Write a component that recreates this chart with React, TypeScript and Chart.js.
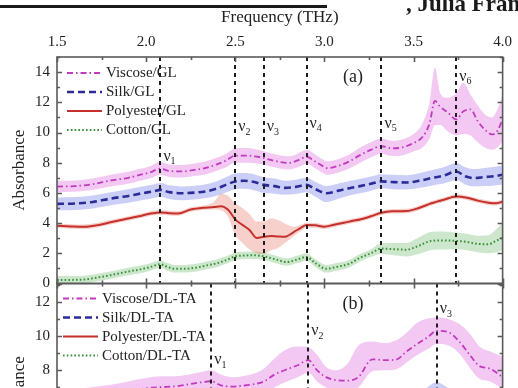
import React, { useEffect, useRef } from 'react';
import { Chart, registerables } from 'chart.js';

Chart.register(...registerables);

const SERIF = '"Liberation Serif", "Times New Roman", serif';
const INK = '#222';

// ---- axes ----
const freqTicks = [1.5, 2.0, 2.5, 3.0, 3.5, 4.0];
const freqTickLabels = ['1.5', '2.0', '2.5', '3.0', '3.5', '4.0'];
const freqMinorTicks = [1.75, 2.25, 2.75, 3.25, 3.75];
const absTicksA = [0, 2, 4, 6, 8, 10, 12, 14];
const absTicksB = [0, 2, 4, 6, 8, 10, 12];

// ---- vibrational modes (THz) ----
const modesA = [2.08, 2.5, 2.66, 2.9, 3.32, 3.74];
const modeNamesA = ['1', '2', '3', '4', '5', '6'];
const modesB = [2.365, 2.91, 3.63];
const modeNamesB = ['1', '2', '3'];

// ---- (a) GL ----
const viscoseGLFreq = [1.5, 1.6, 1.7, 1.8, 1.9, 1.96, 2.02, 2.08, 2.13, 2.2, 2.27, 2.33, 2.4, 2.45, 2.5, 2.57, 2.62, 2.66, 2.7, 2.75, 2.8, 2.85, 2.9, 2.96, 3.02, 3.08, 3.14, 3.2, 3.26, 3.32, 3.38, 3.44, 3.5, 3.55, 3.59, 3.62, 3.65, 3.69, 3.74, 3.78, 3.82, 3.86, 3.9, 3.94, 3.97, 4.0];
const viscoseGL = [6.42, 6.45, 6.58, 6.82, 7.0, 7.18, 7.35, 7.6, 7.45, 7.42, 7.52, 7.64, 7.9, 8.15, 8.47, 8.47, 8.4, 8.31, 8.18, 8.05, 7.98, 8.15, 8.38, 8.0, 7.64, 7.8, 8.09, 8.5, 8.85, 9.09, 8.95, 9.02, 9.3, 9.7, 10.6, 12.09, 11.7, 11.35, 10.87, 11.4, 11.53, 10.75, 10.2, 9.87, 10.09, 10.87];
const viscoseGLLow = [6.05, 6.08, 6.2, 6.42, 6.6, 6.78, 6.95, 7.2, 7.05, 7.02, 7.12, 7.22, 7.48, 7.72, 8.0, 8.0, 7.95, 7.88, 7.75, 7.62, 7.55, 7.7, 7.92, 7.55, 7.2, 7.35, 7.62, 8.0, 8.35, 8.6, 8.45, 8.5, 8.75, 9.0, 9.6, 10.5, 10.5, 10.1, 9.8, 9.9, 9.8, 9.35, 9.0, 8.85, 9.0, 9.4];
const viscoseGLHigh = [6.8, 6.82, 6.95, 7.2, 7.4, 7.58, 7.75, 8.05, 7.88, 7.85, 7.95, 8.08, 8.35, 8.6, 8.95, 8.98, 8.88, 8.76, 8.62, 8.5, 8.42, 8.6, 8.85, 8.45, 8.1, 8.25, 8.55, 9.0, 9.35, 9.6, 9.45, 9.55, 9.9, 10.6, 12.0, 14.3, 12.6, 12.3, 12.6, 13.3, 12.5, 11.8, 11.2, 11.0, 11.5, 12.5];

const silkGLFreq = [1.5, 1.6, 1.7, 1.8, 1.9, 1.98, 2.04, 2.08, 2.13, 2.2, 2.27, 2.33, 2.4, 2.45, 2.5, 2.55, 2.6, 2.66, 2.72, 2.78, 2.84, 2.9, 2.95, 3.01, 3.08, 3.14, 3.2, 3.26, 3.32, 3.38, 3.46, 3.53, 3.6, 3.67, 3.74, 3.79, 3.84, 3.9, 3.95, 4.0];
const silkGL = [5.27, 5.3, 5.4, 5.62, 5.8, 5.98, 6.1, 6.2, 6.05, 5.98, 6.02, 6.09, 6.3, 6.55, 6.76, 6.8, 6.74, 6.53, 6.45, 6.33, 6.4, 6.53, 6.25, 5.98, 6.15, 6.31, 6.45, 6.6, 6.76, 6.72, 6.69, 6.8, 6.98, 7.15, 7.42, 7.1, 6.98, 7.05, 7.1, 7.2];
const silkGLLow = [4.85, 4.87, 4.97, 5.18, 5.35, 5.53, 5.65, 5.75, 5.6, 5.52, 5.57, 5.64, 5.83, 6.05, 6.25, 6.27, 6.2, 6.0, 5.95, 5.87, 5.93, 6.05, 5.75, 5.4, 5.62, 5.83, 5.98, 6.13, 6.3, 6.25, 6.22, 6.32, 6.48, 6.62, 6.85, 6.55, 6.42, 6.45, 6.48, 6.55];
const silkGLHigh = [5.7, 5.73, 5.83, 6.05, 6.25, 6.43, 6.55, 6.65, 6.5, 6.43, 6.47, 6.55, 6.78, 7.05, 7.28, 7.32, 7.25, 7.03, 6.95, 6.8, 6.87, 7.0, 6.72, 6.45, 6.62, 6.78, 6.92, 7.08, 7.24, 7.2, 7.17, 7.3, 7.5, 7.7, 7.98, 7.7, 7.58, 7.65, 7.72, 7.82];

const polyesterGLFreq = [1.5, 1.58, 1.65, 1.72, 1.8, 1.88, 1.96, 2.02, 2.08, 2.13, 2.18, 2.25, 2.32, 2.38, 2.42, 2.46, 2.5, 2.54, 2.58, 2.62, 2.66, 2.7, 2.74, 2.78, 2.83, 2.87, 2.9, 2.95, 3.0, 3.05, 3.11, 3.16, 3.2, 3.26, 3.32, 3.38, 3.46, 3.53, 3.6, 3.67, 3.74, 3.8, 3.86, 3.92, 3.96, 4.0];
const polyesterGL = [3.82, 3.78, 3.76, 3.85, 4.05, 4.25, 4.45, 4.62, 4.71, 4.66, 4.64, 4.9, 5.02, 5.06, 5.12, 4.88, 4.25, 3.88, 3.55, 3.02, 3.09, 3.15, 3.12, 3.1, 3.42, 3.7, 3.87, 3.85, 3.76, 3.88, 4.02, 4.15, 4.24, 4.45, 4.69, 4.78, 4.8, 5.0, 5.31, 5.55, 5.76, 5.68, 5.49, 5.35, 5.31, 5.42];
const polyesterGLLow = [3.67, 3.63, 3.61, 3.7, 3.9, 4.1, 4.3, 4.47, 4.56, 4.51, 4.49, 4.75, 4.87, 4.9, 4.85, 4.4, 3.2, 2.7, 2.25, 2.0, 1.95, 2.2, 2.35, 2.7, 3.15, 3.5, 3.7, 3.7, 3.61, 3.73, 3.87, 4.0, 4.09, 4.3, 4.54, 4.63, 4.65, 4.85, 5.16, 5.4, 5.61, 5.53, 5.34, 5.2, 5.16, 5.27];
const polyesterGLHigh = [3.97, 3.93, 3.91, 4.0, 4.2, 4.4, 4.6, 4.77, 4.86, 4.81, 4.79, 5.05, 5.17, 5.4, 5.95, 5.8, 5.3, 5.0, 4.6, 4.1, 4.1, 4.3, 4.2, 3.95, 3.75, 3.9, 4.02, 4.0, 3.91, 4.03, 4.17, 4.3, 4.39, 4.6, 4.84, 4.93, 4.95, 5.15, 5.46, 5.7, 5.91, 5.83, 5.64, 5.5, 5.46, 5.57];

const cottonGLFreq = [1.5, 1.58, 1.65, 1.72, 1.8, 1.88, 1.96, 2.02, 2.08, 2.12, 2.16, 2.22, 2.28, 2.34, 2.4, 2.46, 2.5, 2.55, 2.6, 2.66, 2.72, 2.79, 2.85, 2.9, 2.95, 3.01, 3.07, 3.14, 3.2, 3.26, 3.32, 3.38, 3.46, 3.53, 3.6, 3.67, 3.74, 3.8, 3.86, 3.92, 3.96, 4.0];
const cottonGL = [0.24, 0.24, 0.26, 0.38, 0.55, 0.75, 0.92, 1.08, 1.27, 1.1, 0.98, 0.98, 1.05, 1.2, 1.35, 1.6, 1.8, 1.85, 1.87, 1.8, 1.62, 1.42, 1.6, 1.76, 1.35, 0.98, 1.1, 1.31, 1.7, 2.0, 2.31, 2.28, 2.24, 2.5, 2.82, 2.85, 2.82, 2.75, 2.62, 2.6, 2.8, 3.04];
const cottonGLLow = [0.0, 0.0, 0.02, 0.13, 0.3, 0.5, 0.67, 0.83, 1.02, 0.85, 0.73, 0.73, 0.8, 0.95, 1.1, 1.35, 1.55, 1.6, 1.62, 1.55, 1.37, 1.17, 1.35, 1.51, 1.1, 0.73, 0.85, 1.06, 1.45, 1.75, 1.96, 1.88, 1.79, 1.95, 2.22, 2.25, 2.27, 2.2, 2.07, 2.0, 2.05, 2.2];
const cottonGLHigh = [0.49, 0.49, 0.51, 0.63, 0.8, 1.0, 1.17, 1.33, 1.52, 1.35, 1.23, 1.23, 1.3, 1.45, 1.6, 1.85, 2.05, 2.1, 2.12, 2.05, 1.87, 1.67, 1.85, 2.01, 1.6, 1.23, 1.35, 1.56, 1.95, 2.25, 2.66, 2.68, 2.69, 3.05, 3.42, 3.45, 3.37, 3.3, 3.17, 3.2, 3.55, 4.0];

// ---- (b) DL-TA ----
const viscoseDLFreq = [1.5, 1.65, 1.8, 1.9, 2.0, 2.08, 2.16, 2.24, 2.31, 2.365, 2.42, 2.48, 2.54, 2.6, 2.66, 2.72, 2.78, 2.85, 2.91, 2.96, 3.01, 3.07, 3.13, 3.19, 3.27, 3.34, 3.4, 3.46, 3.52, 3.58, 3.63, 3.7, 3.76, 3.82, 3.87, 3.93, 4.0];
const viscoseDL = [6.3, 6.45, 6.62, 6.8, 6.95, 7.02, 7.06, 7.18, 7.3, 7.36, 7.12, 7.05, 7.1, 7.18, 7.35, 7.75, 8.02, 8.3, 8.6, 8.0, 7.6, 7.42, 7.4, 7.6, 8.65, 8.6, 8.62, 9.1, 9.55, 9.95, 10.32, 10.22, 9.65, 8.85, 8.25, 8.1, 7.6];
const viscoseDLLow = [5.8, 5.95, 6.1, 6.25, 6.4, 6.45, 6.5, 6.6, 6.7, 6.75, 6.55, 6.5, 6.55, 6.6, 6.7, 7.0, 7.3, 7.6, 7.85, 7.35, 7.0, 6.85, 6.85, 7.0, 7.95, 8.0, 8.05, 8.45, 8.9, 9.25, 9.55, 9.45, 8.95, 8.1, 7.5, 7.35, 6.9];
const viscoseDLHigh = [6.8, 6.95, 7.15, 7.35, 7.55, 7.65, 7.65, 7.75, 7.9, 8.0, 7.75, 7.6, 7.65, 7.8, 8.1, 8.7, 9.2, 9.4, 9.35, 8.9, 8.2, 8.0, 8.4, 9.45, 9.7, 9.6, 9.75, 10.2, 10.8, 11.05, 11.1, 11.0, 10.7, 10.1, 9.4, 9.1, 8.8];

const dlFreq = [1.5, 1.8, 2.1, 2.365, 2.6, 2.91, 3.2, 3.45, 3.55, 3.63, 3.7, 3.85, 4.0];
const silkDL = [4.4, 4.7, 5.0, 5.4, 5.3, 5.9, 5.8, 6.0, 6.3, 6.75, 6.4, 6.0, 5.9];
const silkDLLow = [3.9, 4.2, 4.5, 4.9, 4.8, 5.4, 5.3, 5.5, 5.8, 6.2, 5.9, 5.5, 5.4];
const silkDLHigh = [4.9, 5.2, 5.5, 5.9, 5.8, 6.4, 6.3, 6.5, 6.8, 7.3, 6.95, 6.5, 6.4];
const polyesterDL = [3.2, 3.4, 3.6, 3.9, 3.8, 4.3, 4.2, 4.5, 4.7, 5.0, 4.8, 4.6, 4.6];
const polyesterDLLow = [2.9, 3.1, 3.3, 3.6, 3.5, 4.0, 3.9, 4.2, 4.4, 4.7, 4.5, 4.3, 4.3];
const polyesterDLHigh = [3.5, 3.7, 3.9, 4.2, 4.1, 4.6, 4.5, 4.8, 5.0, 5.3, 5.1, 4.9, 4.9];
const cottonDL = [0.5, 0.8, 1.1, 1.5, 1.4, 2.0, 1.9, 2.3, 2.6, 2.9, 2.7, 2.6, 2.7];
const cottonDLLow = [0.2, 0.5, 0.8, 1.2, 1.1, 1.7, 1.6, 2.0, 2.3, 2.6, 2.4, 2.3, 2.4];
const cottonDLHigh = [0.8, 1.1, 1.4, 1.8, 1.7, 2.3, 2.2, 2.6, 2.9, 3.2, 3.0, 2.9, 3.0];

// ---- series styles ----
const STYLE = {
  viscose: { line: '#c03ac0', band: 'rgba(226,120,226,0.40)', dash: [6, 3, 1.5, 3], width: 1.8 },
  silk: { line: '#2c2c98', band: 'rgba(112,122,232,0.36)', dash: [7, 4], width: 2.6 },
  polyester: { line: '#c5302b', band: 'rgba(232,122,112,0.36)', dash: [] as number[], width: 2 },
  cotton: { line: '#3b8f3b', band: 'rgba(120,192,120,0.38)', dash: [1.6, 2.2], width: 2 },
};

type Style = typeof STYLE.viscose;

const pts = (xs: number[], ys: number[]) => xs.map((x, i) => ({ x, y: ys[i] }));

function series(label: string, axis: string, st: Style, f: number[], m: number[], lo: number[], hi: number[]) {
  const common = { yAxisID: axis, xAxisID: 'x', pointRadius: 0, cubicInterpolationMode: 'monotone' as const };
  return [
    { ...common, label: label + ' hi', data: pts(f, hi), borderWidth: 0, borderColor: 'transparent', backgroundColor: st.band, fill: '+1', isBand: true },
    { ...common, label: label + ' lo', data: pts(f, lo), borderWidth: 0, borderColor: 'transparent', fill: false, isBand: true },
    { ...common, label, data: pts(f, m), borderColor: st.line, borderWidth: st.width, borderDash: st.dash, fill: false, legendStyle: st, panel: axis },
  ];
}

const datasets = [
  ...series('Viscose/GL', 'yA', STYLE.viscose, viscoseGLFreq, viscoseGL, viscoseGLLow, viscoseGLHigh),
  ...series('Silk/GL', 'yA', STYLE.silk, silkGLFreq, silkGL, silkGLLow, silkGLHigh),
  ...series('Polyester/GL', 'yA', STYLE.polyester, polyesterGLFreq, polyesterGL, polyesterGLLow, polyesterGLHigh),
  ...series('Cotton/GL', 'yA', STYLE.cotton, cottonGLFreq, cottonGL, cottonGLLow, cottonGLHigh),
  ...series('Viscose/DL-TA', 'yB', STYLE.viscose, viscoseDLFreq, viscoseDL, viscoseDLLow, viscoseDLHigh),
  ...series('Silk/DL-TA', 'yB', STYLE.silk, dlFreq, silkDL, silkDLLow, silkDLHigh),
  ...series('Polyester/DL-TA', 'yB', STYLE.polyester, dlFreq, polyesterDL, polyesterDLLow, polyesterDLHigh),
  ...series('Cotton/DL-TA', 'yB', STYLE.cotton, dlFreq, cottonDL, cottonDLLow, cottonDLHigh),
];

// label heights (absorbance units) for the mode markers
const MODE_LABEL_Y_A = [8.4, 10.35, 10.35, 10.6, 10.6, 13.7];
const MODE_LABEL_Y_B = [8.6, 10.3, 11.6];

const panelDecor = {
  id: 'panelDecor',
  afterDatasetsDraw(chart: any) {
    const { ctx } = chart;
    const x = chart.scales.x;
    const panels = [
      { y: chart.scales.yA, modes: modesA, names: modeNamesA, ly: MODE_LABEL_Y_A },
      { y: chart.scales.yB, modes: modesB, names: modeNamesB, ly: MODE_LABEL_Y_B },
    ];
    ctx.save();
    for (const p of panels) {
      ctx.strokeStyle = '#1e1e1e';
      ctx.lineWidth = 2;
      ctx.setLineDash([4, 4]);
      p.modes.forEach((f) => {
        const px = Math.round(x.getPixelForValue(f));
        ctx.beginPath();
        ctx.moveTo(px, p.y.top);
        ctx.lineTo(px, p.y.bottom);
        ctx.stroke();
      });
      ctx.setLineDash([]);
      ctx.fillStyle = INK;
      ctx.textAlign = 'left';
      ctx.textBaseline = 'middle';
      p.modes.forEach((f, i) => {
        const px = x.getPixelForValue(f) + 3;
        const py = p.y.getPixelForValue(p.ly[i]);
        ctx.font = `16px ${SERIF}`;
        ctx.fillText('ν', px, py);
        const w = ctx.measureText('ν').width;
        ctx.font = `10px ${SERIF}`;
        ctx.fillText(p.names[i], px + w, py + 5);
      });
    }
    ctx.restore();
  },
  afterDraw(chart: any) {
    const { ctx } = chart;
    const x = chart.scales.x;
    const yA = chart.scales.yA;
    const yB = chart.scales.yB;
    const L = x.left;
    const R = x.right;
    ctx.save();
    ctx.strokeStyle = '#5a5a5a';
    ctx.lineWidth = 1.6;
    for (const y of [yA, yB]) {
      ctx.strokeRect(L, y.top, R - L, y.bottom - y.top);
      // y ticks: every unit, longer on even values
      const lo = Math.ceil(y.min);
      const hi = Math.floor(y.max);
      for (let v = lo; v <= hi; v++) {
        const py = Math.round(y.getPixelForValue(v)) + 0.5;
        const len = v % 2 === 0 ? 5 : 3;
        ctx.beginPath();
        ctx.moveTo(L, py); ctx.lineTo(L + len, py);
        ctx.moveTo(R, py); ctx.lineTo(R - len, py);
        ctx.stroke();
      }
      // x ticks on top and bottom edges
      const xt = [...freqTicks.map((v) => [v, 5]), ...freqMinorTicks.map((v) => [v, 3])];
      for (const [v, len] of xt) {
        const px = Math.round(x.getPixelForValue(v)) + 0.5;
        ctx.beginPath();
        ctx.moveTo(px, y.top); ctx.lineTo(px, y.top + len);
        ctx.moveTo(px, y.bottom); ctx.lineTo(px, y.bottom - len);
        ctx.stroke();
      }
    }

    // legends
    const legend = (axis: string, x0: number, y0: number) => {
      const items = chart.data.datasets.filter((d: any) => d.panel === axis);
      items.forEach((d: any, i: number) => {
        const st: Style = d.legendStyle;
        const yy = y0 + i * 19;
        ctx.strokeStyle = st.line;
        ctx.lineWidth = st.width;
        ctx.setLineDash(st.dash);
        ctx.beginPath();
        ctx.moveTo(x0, yy);
        ctx.lineTo(x0 + 35, yy);
        ctx.stroke();
        ctx.setLineDash([]);
        ctx.fillStyle = INK;
        ctx.font = `15px ${SERIF}`;
        ctx.textAlign = 'left';
        ctx.textBaseline = 'middle';
        ctx.fillText(d.label, x0 + 39, yy + 0.5);
      });
    };
    legend('yA', L + 10, yA.top + 16);
    legend('yB', L + 6, yB.top + 15);

    // panel tags
    ctx.fillStyle = INK;
    ctx.font = `18px ${SERIF}`;
    ctx.textAlign = 'center';
    ctx.textBaseline = 'middle';
    ctx.fillText('(a)', L + 296, yA.top + 20);
    ctx.fillText('(b)', L + 296, yB.top + 21);
    ctx.restore();
  },
};

const tickFont = { family: SERIF, size: 15 };
const titleFont = { family: SERIF, size: 17 };

function yScale(min: number, max: number, ticks: number[]) {
  return {
    type: 'linear' as const,
    position: 'left' as const,
    stack: 'panels',
    stackWeight: 1,
    min,
    max,
    afterBuildTicks: (s: any) => { s.ticks = ticks.map((value) => ({ value })); },
    afterFit: (s: any) => { s.width = 57; },
    ticks: { font: tickFont, color: INK, padding: 7, autoSkip: false, callback: (v: any) => String(v) },
    grid: { display: false, drawTicks: false },
    border: { display: false },
    title: { display: true, text: 'Absorbance', font: titleFont, color: INK, padding: { top: 9, bottom: 0 } },
  };
}

export default function App() {
  const ref = useRef<HTMLCanvasElement>(null);

  useEffect(() => {
    if (!ref.current) return;
    const chart = new Chart(ref.current, {
      type: 'line',
      data: { datasets: datasets as any },
      options: {
        animation: false,
        responsive: false,
        maintainAspectRatio: false,
        devicePixelRatio: 1,
        events: [],
        layout: { padding: { left: 0, right: 10, top: 0, bottom: 20 } },
        plugins: {
          legend: { display: false },
          tooltip: { enabled: false },
          filler: { drawTime: 'beforeDatasetsDraw', propagate: false },
        },
        elements: { line: { borderCapStyle: 'butt', borderJoinStyle: 'round' } },
        scales: {
          x: {
            type: 'linear',
            position: 'top',
            min: 1.5,
            max: 4.0,
            afterBuildTicks: (s: any) => { s.ticks = freqTicks.map((value) => ({ value })); },
            afterFit: (s: any) => { s.height = 57; },
            ticks: { font: tickFont, color: INK, padding: 6, maxRotation: 0, autoSkip: false, callback: (_v: any, i: number) => freqTickLabels[i] },
            grid: { display: false, drawTicks: false },
            border: { display: false },
            title: { display: true, text: 'Frequency (THz)', font: titleFont, color: INK, padding: { top: 7, bottom: 0 } },
          },
          yB: yScale(-0.2, 13.1, absTicksB),
          yA: yScale(0, 15, absTicksA),
        } as any,
      },
      plugins: [panelDecor],
    });
    return () => chart.destroy();
  }, []);

  return (
    <div style={{ position: 'fixed', left: 0, top: 0, width: 518, height: 388, overflow: 'hidden', background: '#fff' }}>
      <canvas ref={ref} width={518} height={530} style={{ position: 'absolute', left: 0, top: 0, width: 518, height: 530 }} />
      <div style={{ position: 'absolute', left: 0, top: 5, width: 327, height: 3, background: '#1a1a1a' }} />
      <div style={{ position: 'absolute', left: 406, top: -8, font: `bold 23px ${SERIF}`, lineHeight: '23px', color: '#1a1a1a', whiteSpace: 'nowrap' }}>, Julia Fran</div>
    </div>
  );
}
